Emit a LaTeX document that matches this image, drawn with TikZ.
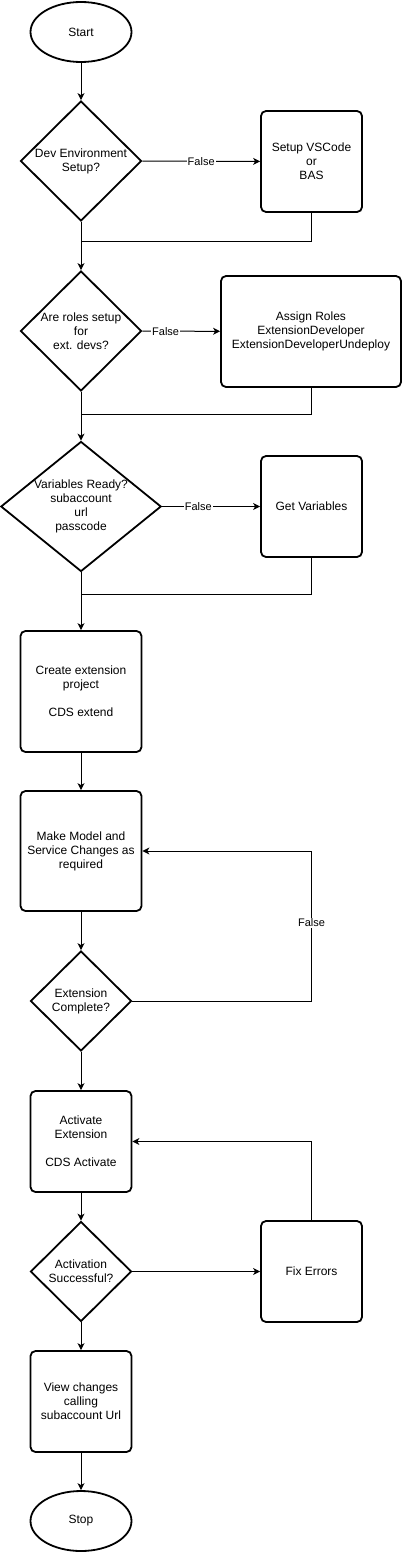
\documentclass[tikz,border=0pt]{standalone}
\usepackage{fontspec}
\setmainfont{Liberation Sans}
\usetikzlibrary{shapes.geometric,arrows.meta}

\begin{document}
\begin{tikzpicture}[x=1pt,y=-1pt,font=\fontsize{12}{14}\selectfont,
  Term/.style={ellipse,draw,line width=1.8pt,minimum width=101pt,minimum height=60pt,inner sep=0pt},
  Dec/.style={diamond,draw,line width=1.8pt,inner sep=0pt,align=center},
  Proc/.style={rectangle,rounded corners=5pt,draw,line width=1.8pt,inner sep=0pt,align=center},
  Flow/.style={line width=1pt,-{Stealth[length=7pt,width=7pt,inset=2pt]}},
  Link/.style={line width=1pt},
  Lbl/.style={fill=white,inner sep=1pt,font=\fontsize{11}{13}\selectfont}]
\useasboundingbox (0,0) rectangle (402,1552);
\node[Term] (Start) at (81,32) {Start};
\node[Dec,minimum width=121pt,minimum height=120pt] (Env) at (81,161) {Dev Environment\\Setup?};
\node[Proc,minimum width=101pt,minimum height=101pt] (VSC) at (311.5,161.5) {Setup VSCode\\or\\BAS};
\node[Dec,minimum width=121pt,minimum height=120pt] (Roles) at (81,331) {Are roles setup\\for\\ext. devs?};
\node[Proc,minimum width=180pt,minimum height=111pt] (Assign) at (311,331.5) {Assign Roles\\ExtensionDeveloper\\ExtensionDeveloperUndeploy};
\node[Dec,aspect=1.25,minimum width=160pt,minimum height=130pt] (Vars) at (81,506.5) {Variables Ready?\\subaccount\\url\\passcode};
\node[Proc,minimum width=101pt,minimum height=101pt] (GetVars) at (311.5,506.5) {Get Variables};
\node[Proc,minimum width=121pt,minimum height=121pt] (Create) at (81,691.5) {Create extension\\project\\[14pt]CDS extend};
\node[Proc,minimum width=121pt,minimum height=120pt] (Model) at (81,851) {Make Model and\\Service Changes as\\required};
\node[Dec,minimum width=101pt,minimum height=100pt] (ExtDone) at (81,1001) {Extension\\Complete?};
\node[Proc,minimum width=101pt,minimum height=101pt] (Activate) at (81,1141.5) {Activate\\Extension\\[14pt]CDS Activate};
\node[Dec,minimum width=101pt,minimum height=100pt] (ActOK) at (81,1271.5) {Activation\\Successful?};
\node[Proc,minimum width=101pt,minimum height=101pt] (Fix) at (311.5,1271.5) {Fix Errors};
\node[Proc,minimum width=101pt,minimum height=101pt] (View) at (81,1401.5) {View changes\\calling\\subaccount Url};
\node[Term] (Stop) at (81,1521) {Stop};
\coordinate (M1) at (81,241);
\coordinate (M2) at (81,414);
\coordinate (M3) at (81,594);
\draw[Flow] (Start) -- (Env);
\draw[Flow] (Env) -- node[Lbl]{False} (VSC);
\draw[Link] (VSC) |- (M1);
\draw[Flow] (Env) -- (Roles);
\draw[Flow] (Roles) -- node[Lbl,pos=0.3]{False} (Assign);
\draw[Link] (Assign) |- (M2);
\draw[Flow] (Roles) -- (Vars);
\draw[Flow] (Vars) -- node[Lbl,pos=0.37]{False} (GetVars);
\draw[Link] (GetVars) |- (M3);
\draw[Flow] (Vars) -- (Create);
\draw[Flow] (Create) -- (Model);
\draw[Flow] (Model) -- (ExtDone);
\draw[Flow] (ExtDone.east) -| node[Lbl,pos=0.76]{False} (Fix |- Model.east) -- (Model.east);
\draw[Flow] (ExtDone) -- (Activate);
\draw[Flow] (Activate) -- (ActOK);
\draw[Flow] (ActOK) -- (Fix);
\draw[Flow] (Fix.north) |- (Activate.east);
\draw[Flow] (ActOK) -- (View);
\draw[Flow] (View) -- (Stop);
\end{tikzpicture}
\end{document}
